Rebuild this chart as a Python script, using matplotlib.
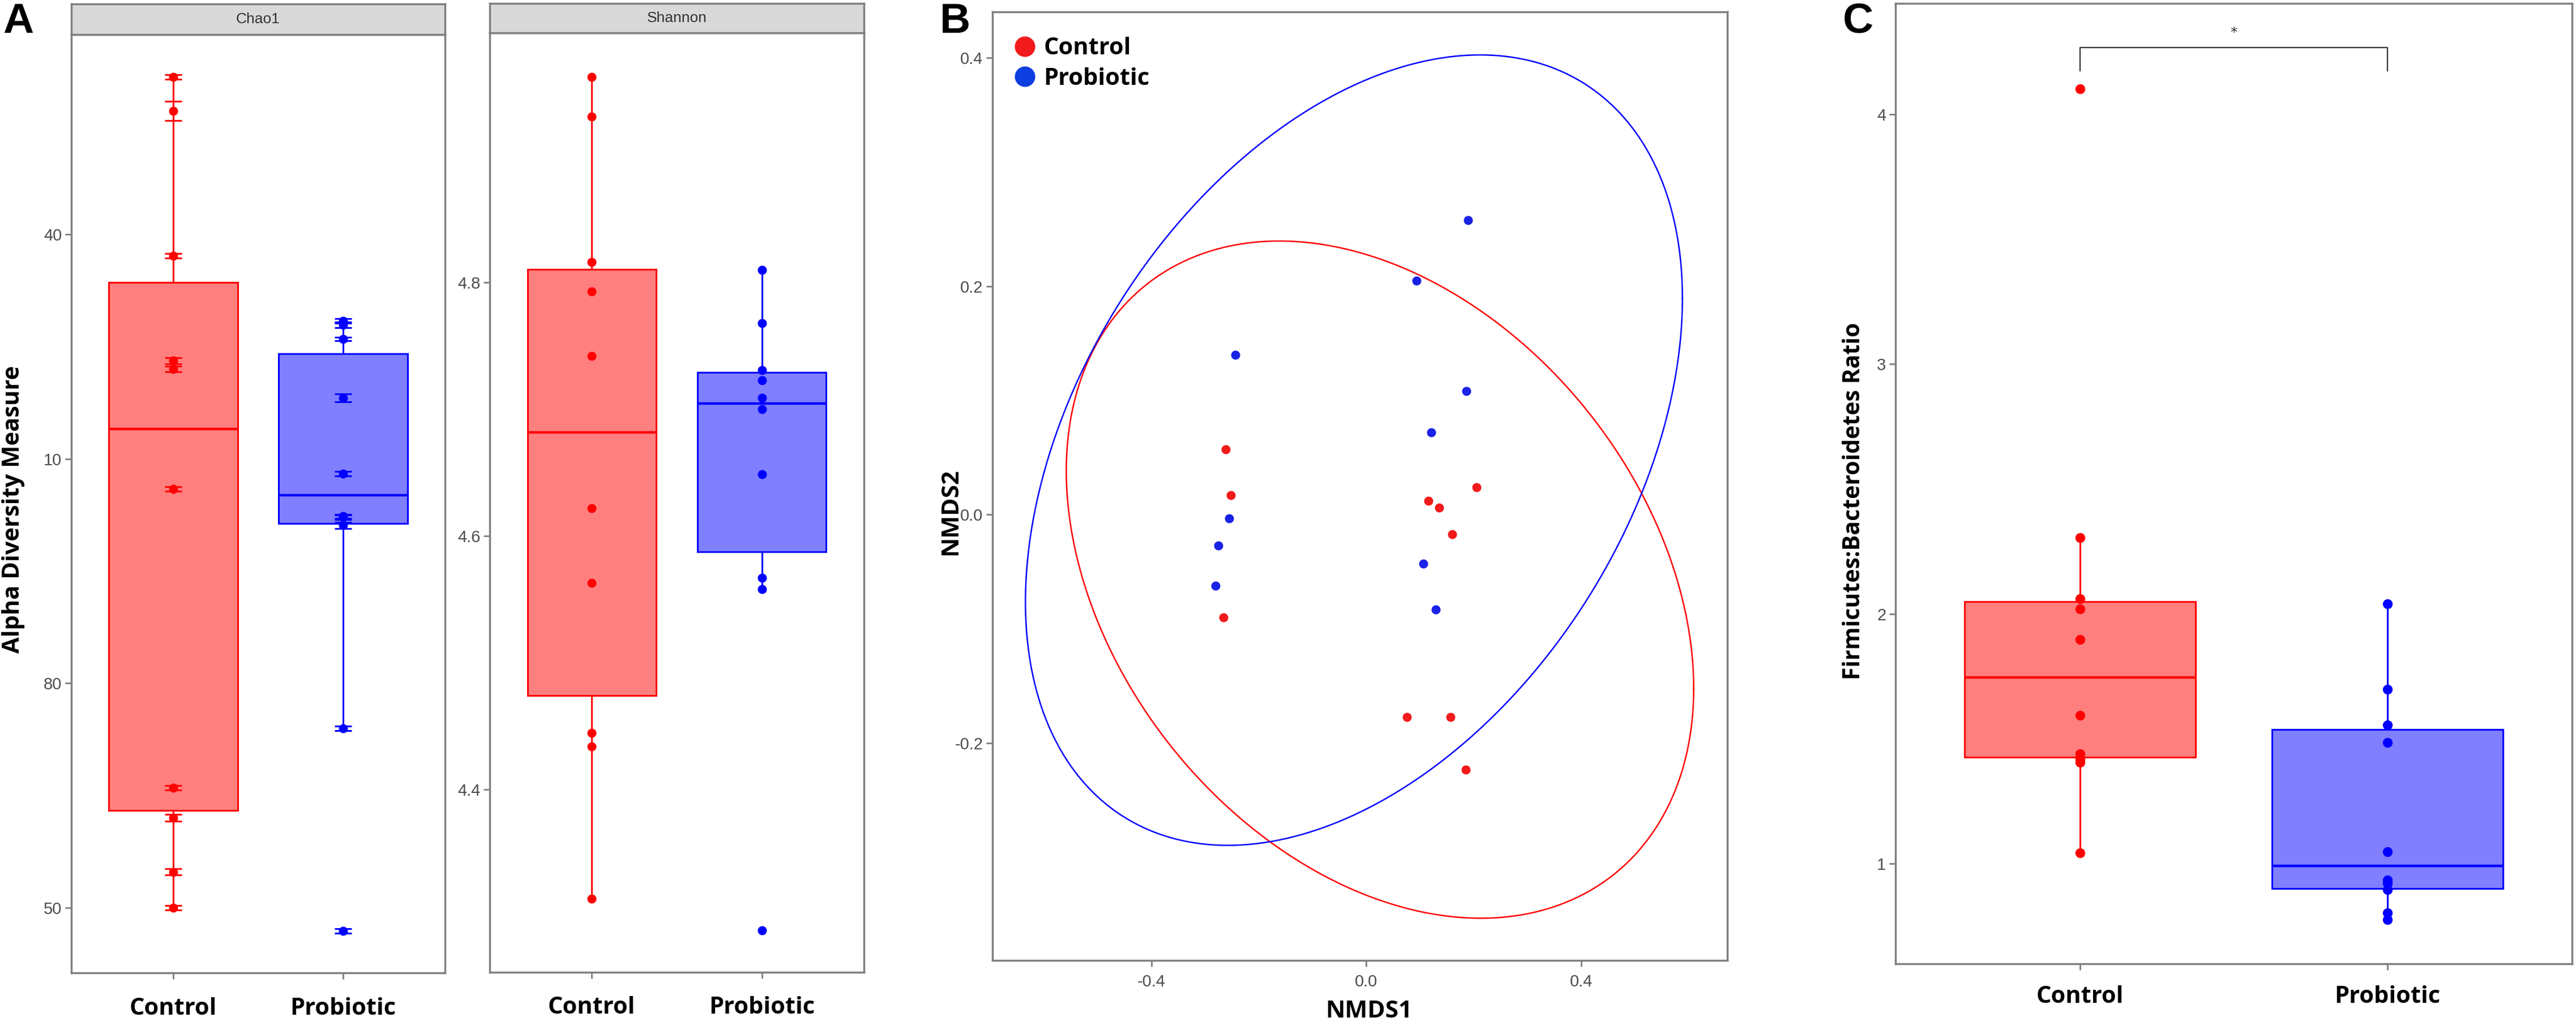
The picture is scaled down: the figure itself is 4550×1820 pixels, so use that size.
import numpy as np
import matplotlib.pyplot as plt
from matplotlib.lines import Line2D

# ---- data ----
groups = ["Control", "Probiotic"]

# panel A, Chao1 (values with chao1 standard errors)
chao1_control = [161.0, 156.5, 137.1, 123.1, 122.0, 106.0, 66.0, 62.0, 54.8, 50.0]
chao1_control_se = [0.3, 1.3, 0.3, 0.4, 0.4, 0.3, 0.3, 0.45, 0.4, 0.3]
chao1_probiotic = [128.4, 127.9, 126.0, 118.15, 108.0, 102.3, 102.2, 101.1, 74.0, 46.9]
chao1_probiotic_se = [0.3, 0.35, 0.2, 0.55, 0.3, 0.3, 0.3, 0.4, 0.3, 0.3]
chao1_ticks = [50, 80, 110, 140]
chao1_ticklabels = ["50", "80", "10", "40"]   # leading digits are cut off in the original

# panel A, Shannon
shannon_control = [4.962, 4.931, 4.816, 4.793, 4.742, 4.622, 4.563, 4.445, 4.434, 4.314]
shannon_probiotic = [4.810, 4.768, 4.731, 4.723, 4.709, 4.700, 4.649, 4.567, 4.558, 4.289]
shannon_ticks = [4.4, 4.6, 4.8]

# panel B, NMDS
nmds1_control = [-0.262, -0.252, -0.266, 0.205, 0.116, 0.136, 0.160, 0.075, 0.157, 0.185]
nmds2_control = [0.057, 0.017, -0.090, 0.024, 0.012, 0.006, -0.017, -0.177, -0.177, -0.223]
nmds1_probiotic = [0.189, 0.093, -0.244, 0.186, 0.121, -0.255, -0.275, -0.281, 0.106, 0.129]
nmds2_probiotic = [0.258, 0.205, 0.140, 0.108, 0.072, -0.003, -0.027, -0.062, -0.043, -0.083]

# panel C, Firmicutes:Bacteroidetes ratio
fb_control = [4.103, 2.304, 2.060, 2.020, 1.897, 1.594, 1.440, 1.420, 1.405, 1.042]
fb_probiotic = [2.039, 1.699, 1.555, 1.484, 1.047, 0.935, 0.920, 0.895, 0.803, 0.776]

# ---- style ----
W, H = 4550, 1820
RED, BLUE = "#FF0000", "#0000FF"
RED_FILL, BLUE_FILL = "#FF7F7F", "#7F7FFF"
FRAME = "#7F7F7F"
TICKCOL = "#4D4D4D"
BOLD = dict(family="Open Sans", weight="bold", color="black")
NUMFONT = dict(family="Liberation Sans", size=21, color=TICKCOL)

fig = plt.figure(figsize=(W / 100, H / 100), dpi=100)


def box(x0, y0, x1, y1):
    return [x0 / W, 1 - y1 / H, (x1 - x0) / W, (y1 - y0) / H]


def style_axes(ax, pad_x=14):
    for s in ax.spines.values():
        s.set_color(FRAME)
        s.set_linewidth(2.5)
    ax.tick_params(axis="both", color=FRAME, width=2, length=8)
    ax.tick_params(axis="y", pad=4)
    ax.tick_params(axis="x", pad=pad_x)
    for lab in ax.get_yticklabels():
        lab.set(**NUMFONT)


def draw_boxes(ax, data, width, lw=2.2, mlw=3.2):
    bp = ax.boxplot(data, positions=[1, 2], widths=width, whis=1.5, patch_artist=True,
                    showfliers=False, showcaps=False, zorder=2)
    for i, (fill, edge) in enumerate([(RED_FILL, RED), (BLUE_FILL, BLUE)]):
        bp["boxes"][i].set(facecolor=fill, edgecolor=edge, linewidth=lw)
        bp["medians"][i].set(color=edge, linewidth=mlw)
        for w in bp["whiskers"][2 * i:2 * i + 2]:
            w.set(color=edge, linewidth=lw)


def cat_axis(ax):
    ax.set_xlim(0.4, 2.6)
    ax.set_xticks([1, 2])
    ax.set_xticklabels(groups, fontsize=30, **BOLD)


# ---- panel A: Chao1 ----
axc = fig.add_axes(box(126, 61, 786, 1719))
draw_boxes(axc, [chao1_control, chao1_probiotic], 0.76)
axc.errorbar(np.ones(len(chao1_control)), chao1_control, yerr=chao1_control_se, fmt="o",
             color=RED, ms=10.5, elinewidth=2, capsize=11, capthick=2.2, zorder=3)
axc.errorbar(np.full(len(chao1_probiotic), 2), chao1_probiotic, yerr=chao1_probiotic_se, fmt="o",
             color=BLUE, ms=10.5, elinewidth=2, capsize=11, capthick=2.2, zorder=3)
axc.set_ylim(41.3, 166.7)
axc.set_yticks(chao1_ticks)
axc.set_yticklabels(chao1_ticklabels)
cat_axis(axc)
style_axes(axc, pad_x=23)
axc.set_ylabel("Alpha Diversity Measure", fontsize=30, **BOLD)
axc.yaxis.set_label_coords(-0.124, 0.494)

# ---- panel A: Shannon ----
axs = fig.add_axes(box(865, 58, 1526, 1718))
draw_boxes(axs, [shannon_control, shannon_probiotic], 0.755)
axs.plot(np.ones(len(shannon_control)), shannon_control, "o", color=RED, ms=10.5, zorder=3)
axs.plot(np.full(len(shannon_probiotic), 2), shannon_probiotic, "o", color=BLUE, ms=10.5, zorder=3)
axs.set_ylim(4.256, 4.997)
axs.set_yticks(shannon_ticks)
axs.set_yticklabels([f"{t:.1f}" for t in shannon_ticks])
cat_axis(axs)
style_axes(axs, pad_x=22)

# facet strips
for (x0, y0, x1, y1), name in [((126, 7, 786, 61), "Chao1"), ((865, 6, 1526, 58), "Shannon")]:
    st = fig.add_axes(box(x0, y0, x1, y1))
    st.set_facecolor("#D9D9D9")
    st.set_xticks([])
    st.set_yticks([])
    for s in st.spines.values():
        s.set_color(FRAME)
        s.set_linewidth(2.5)
    st.text(0.5, 0.5, name, ha="center", va="center", family="Liberation Sans",
            fontsize=19, color="#333333", transform=st.transAxes)

# ---- panel B: NMDS ----
axb = fig.add_axes(box(1753, 21, 3051, 1697))
F_95_2_9 = 4.2565  # qf(0.95, 2, n - 1) for n = 10
t = np.linspace(0, 2 * np.pi, 361)
circle = np.column_stack([np.cos(t), np.sin(t)])
for xs, ys, col in [(nmds1_control, nmds2_control, RED), (nmds1_probiotic, nmds2_probiotic, BLUE)]:
    pts = np.column_stack([xs, ys])
    centre = pts.mean(axis=0)
    chol = np.linalg.cholesky(np.cov(pts.T))
    radius = np.sqrt(2 * F_95_2_9)
    ell = centre + radius * circle @ chol.T
    axb.plot(ell[:, 0], ell[:, 1], color=col, lw=1.8, zorder=2)
axb.plot(nmds1_control, nmds2_control, "o", color="#F21A1A", ms=10.5, zorder=3)
axb.plot(nmds1_probiotic, nmds2_probiotic, "o", color="#1A22E6", ms=10.5, zorder=3)
axb.set_xlim(-0.696, 0.672)
axb.set_ylim(-0.390, 0.440)
axb.set_xticks([-0.4, 0.0, 0.4])
axb.set_yticks([-0.2, 0.0, 0.2, 0.4])
axb.set_xticklabels([f"{v:.1f}" for v in [-0.4, 0.0, 0.4]])
axb.set_yticklabels([f"{v:.1f}" for v in [-0.2, 0.0, 0.2, 0.4]])
style_axes(axb, pad_x=9)
for lab in axb.get_xticklabels():
    lab.set(**NUMFONT)
axb.set_xlabel("NMDS1", fontsize=30.5, **BOLD)
axb.xaxis.set_label_coords(0.512, -0.042)
axb.set_ylabel("NMDS2", fontsize=30.5, **BOLD)
axb.yaxis.set_label_coords(-0.041, 0.473)
handles = [Line2D([], [], ls="", marker="o", ms=25, color="#F21A1A"),
           Line2D([], [], ls="", marker="o", ms=25, color="#0D3FE0")]
axb.legend(handles, groups, loc="upper left", bbox_to_anchor=(0.012, 0.986), frameon=False,
           handlelength=1.0, handletextpad=0.3, labelspacing=0.3, borderpad=0,
           prop=dict(family="Open Sans", weight="bold", size=30))

# ---- panel C: F:B ratio ----
axr = fig.add_axes(box(3348, 6, 4543, 1703))
draw_boxes(axr, [fb_control, fb_probiotic], 0.75, lw=2.2, mlw=3.2)
axr.plot(np.ones(len(fb_control)), fb_control, "o", color=RED, ms=11.5, zorder=3)
axr.plot(np.full(len(fb_probiotic), 2), fb_probiotic, "o", color=BLUE, ms=11.5, zorder=3)
axr.set_ylim(0.599, 4.444)
axr.set_yticks([1, 2, 3, 4])
axr.set_yticklabels(["1", "2", "3", "4"])
cat_axis(axr)
style_axes(axr, pad_x=19.5)
axr.set_ylabel("Firmicutes:Bacteroidetes Ratio", fontsize=29.5, **BOLD)
axr.yaxis.set_label_coords(-0.044, 0.482)
# significance bracket
axr.plot([1, 1, 2, 2], [4.174, 4.268, 4.268, 4.174], color="#333333", lw=1.6)
axr.text(1.5, 4.30, "*", ha="center", va="bottom", fontsize=18, color="#333333")

# panel letters
for x, letter in [(5, "A"), (1660, "B"), (3255, "C")]:
    fig.text(x / W, 1 - 58 / H, letter, ha="left", va="baseline", family="Liberation Sans",
             weight="bold", fontsize=54, color="black")

fig.savefig("out.png", dpi=100)
